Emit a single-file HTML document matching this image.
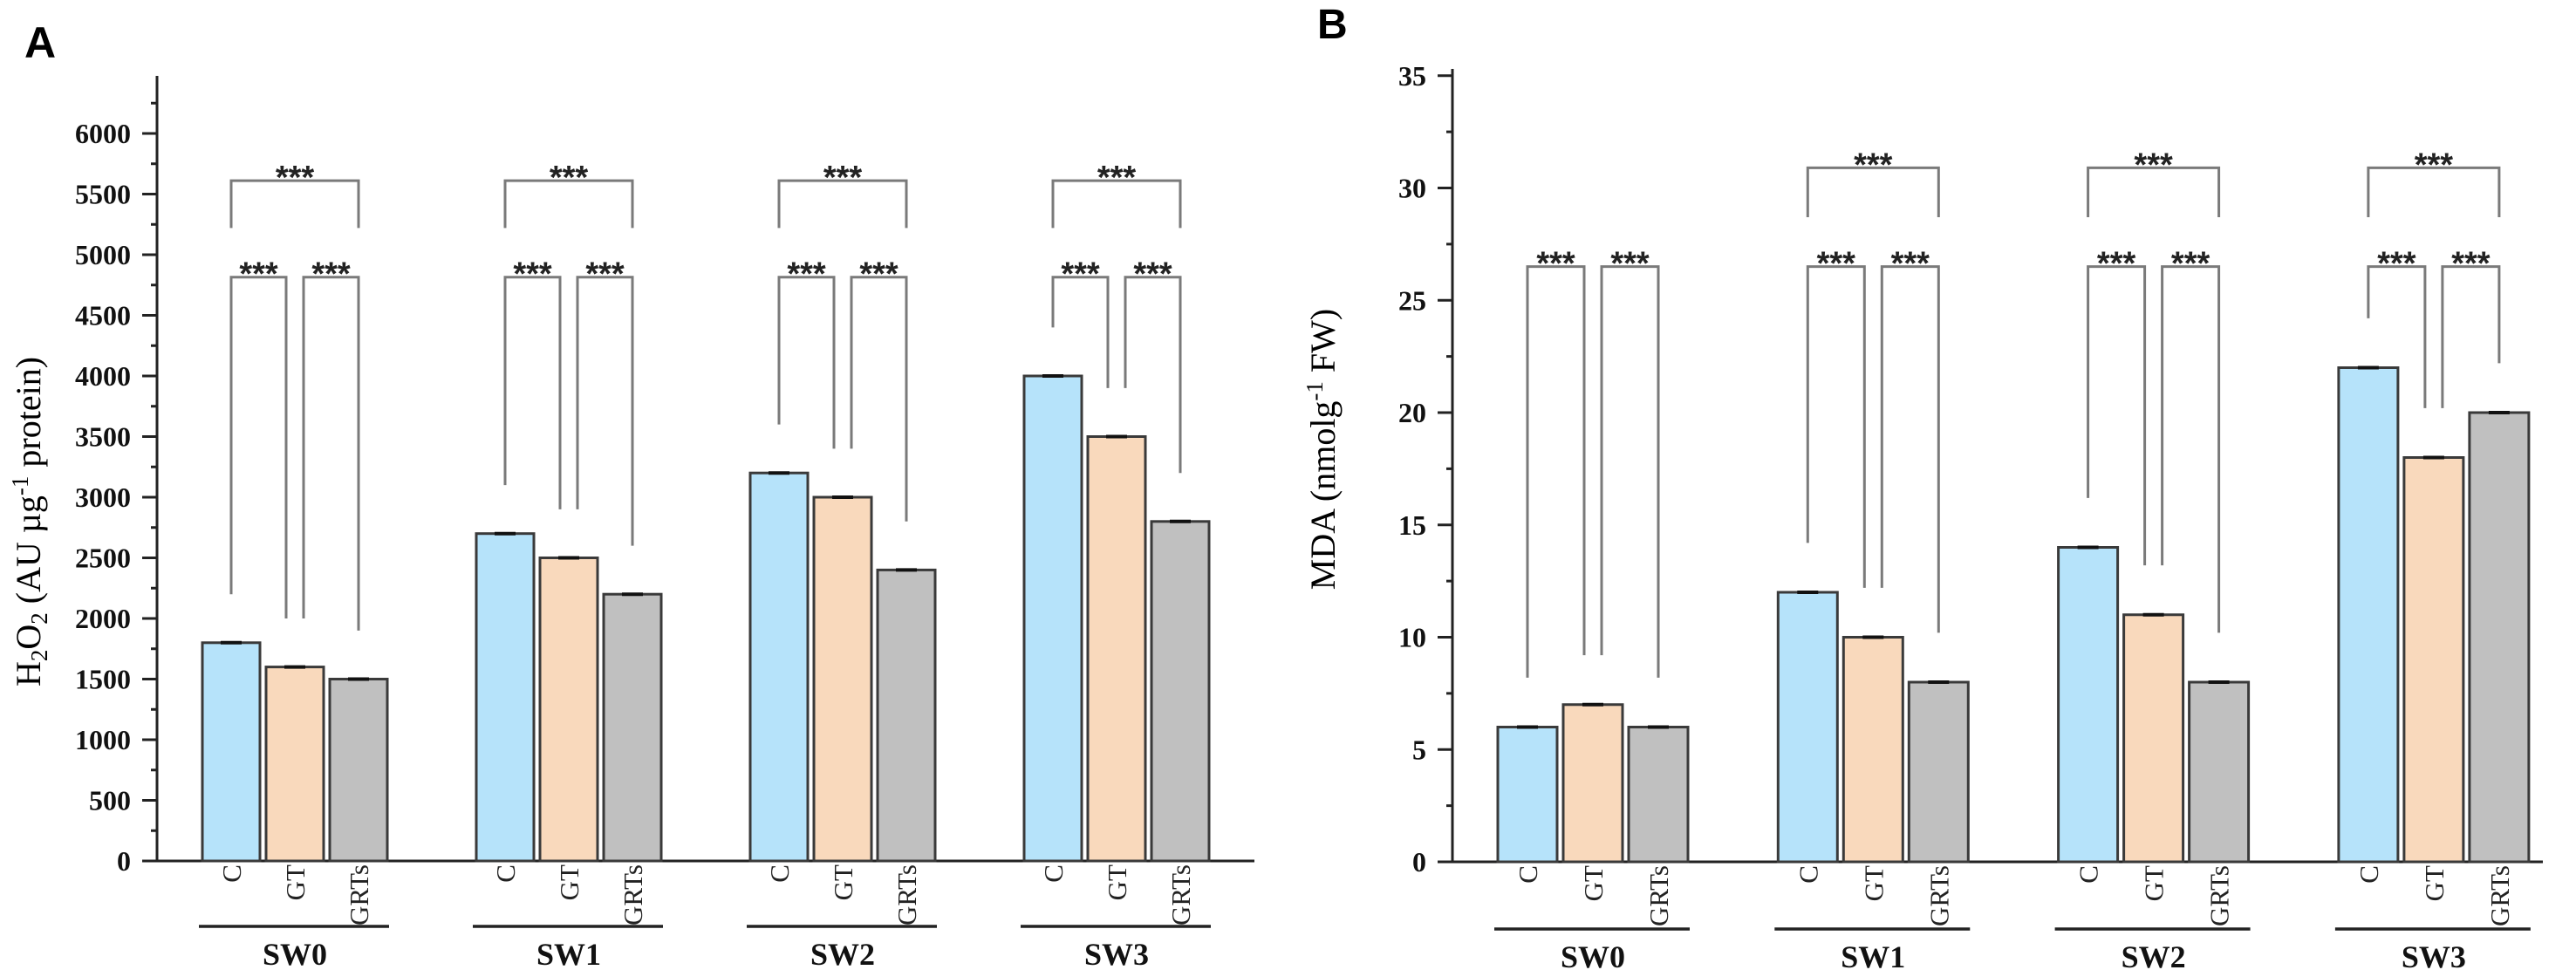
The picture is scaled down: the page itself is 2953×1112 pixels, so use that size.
<!DOCTYPE html>
<html><head><meta charset="utf-8"><style>
html,body{margin:0;padding:0;background:#fff;}
svg{display:block;}
</style></head><body>
<svg id="chart" width="2953" height="1112" viewBox="0 0 2953 1112" xmlns="http://www.w3.org/2000/svg">
<text x="28" y="66" font-family="Liberation Sans, sans-serif" font-weight="bold" font-size="50">A</text>
<text x="1510" y="44" font-family="Liberation Sans, sans-serif" font-weight="bold" font-size="48">B</text>
<text transform="translate(46,598) rotate(-90)" text-anchor="middle" font-family="Liberation Serif, serif" font-size="40">H<tspan font-size="27" dy="8">2</tspan><tspan dy="-8">O</tspan><tspan font-size="27" dy="8">2</tspan><tspan dy="-8"> (AU µg</tspan><tspan font-size="27" dy="-14">-1</tspan><tspan dy="14"> protein)</tspan></text>
<text transform="translate(1530,515) rotate(-90)" text-anchor="middle" font-family="Liberation Serif, serif" font-size="40">MDA (nmolg<tspan font-size="27" dy="-14">-1</tspan><tspan dy="14"> FW)</tspan></text>
<g id="pa"></g>
<g id="pb"></g>
</svg>
<script>
const groups = ["SW0","SW1","SW2","SW3"];
const treatments = ["C","GT","GRTs"];
const colors = ["#b6e3fa","#f9d9bc","#c0c0c0"];
// Panel A: H2O2
const aC = [1800, 2700, 3200, 4000];
const aGT = [1600, 2500, 3000, 3500];
const aGRT = [1500, 2200, 2400, 2800];
const aTicks = [0,500,1000,1500,2000,2500,3000,3500,4000,4500,5000,5500,6000];
const aTopBracket = [5611, 5611, 5611, 5611];
const aLowBracket = [4815, 4815, 4815, 4815];
const aLegGap = 400;
const aTopLeg = 5220;
// Panel B: MDA
const bC = [6, 12, 14, 22];
const bGT = [7, 10, 11, 18];
const bGRT = [6, 8, 8, 20];
const bTicks = [0,5,10,15,20,25,30,35];
const bTopBracket = [null, 30.9, 30.9, 30.9];
const bLowBracket = [26.5, 26.5, 26.5, 26.5];
const bLegGap = 2.2;
const bTopLeg = 28.7;

const NS = "http://www.w3.org/2000/svg";
function mk(parent, tag, attrs, text){
  const e = document.createElementNS(NS, tag);
  for (const k in attrs) e.setAttribute(k, attrs[k]);
  if (text !== undefined) e.textContent = text;
  parent.appendChild(e);
  return e;
}

function panel(g, cfg){
  const y = v => cfg.y0 - (v - 0) * cfg.ppu;
  const series = cfg.series;
  const ax = mk(g, "line", {x1:cfg.ax, y1:cfg.axTop, x2:cfg.ax, y2:cfg.y0+1.5, stroke:"#222", "stroke-width":3});
  
  
  cfg.ticks.forEach((t, i) => {
    const tk = mk(g, "line", {x1:cfg.ax-17, y1:y(t), x2:cfg.ax, y2:y(t), stroke:"#222", "stroke-width":3});
    
    
    const lb = mk(g, "text", {x:cfg.ax-30, y:y(t)+11, "text-anchor":"end", "font-family":"Liberation Serif, serif", "font-weight":"bold", "font-size":32, fill:"#111"}, String(t));
    
    
    if (i < cfg.ticks.length - 1) {
      const mv = (t + cfg.ticks[i+1]) / 2;
      const mt = mk(g, "line", {x1:cfg.ax-7, y1:y(mv), x2:cfg.ax, y2:y(mv), stroke:"#222", "stroke-width":3});
      
      
    }
  });
  const lastMinor = cfg.ticks[cfg.ticks.length-1] + (cfg.ticks[1]-cfg.ticks[0])/2;
  if (y(lastMinor) > cfg.axTop) {
    const mt = mk(g, "line", {x1:cfg.ax-7, y1:y(lastMinor), x2:cfg.ax, y2:y(lastMinor), stroke:"#222", "stroke-width":3});
    
    
  }
  const xa = mk(g, "line", {x1:cfg.ax-17, y1:cfg.y0, x2:cfg.axEnd, y2:cfg.y0, stroke:"#222", "stroke-width":3});
  
  

  groups.forEach((gn, gi) => {
    const gx = cfg.g0 + gi * cfg.gStep;
    const centers = [];
    series.forEach((s, si) => {
      const x = gx + si * cfg.stride;
      const v = s[gi];
      centers.push(x + cfg.bw/2);
      const r = mk(g, "rect", {x:x, y:y(v), width:cfg.bw, height:cfg.y0 - y(v), fill:colors[si], stroke:"#3a3a3a", "stroke-width":3});
      
      
      const eb = mk(g, "line", {x1:x+cfg.bw/2-12, y1:y(v), x2:x+cfg.bw/2+12, y2:y(v), stroke:"#111", "stroke-width":4});
      
      
      const tl = mk(g, "text", {transform:"translate(" + (x+cfg.bw/2+11) + "," + (cfg.y0+4) + ") rotate(-90)", "text-anchor":"end", "font-family":"Liberation Serif, serif", "font-size":31, fill:"#222"}, treatments[si]);
      
      
    });
    const gl = mk(g, "line", {x1:gx-4, y1:cfg.lineY, x2:gx + 2*cfg.stride + cfg.bw + 2, y2:cfg.lineY, stroke:"#222", "stroke-width":3.5});
    
    
    const gt = mk(g, "text", {x:gx + cfg.stride + cfg.bw/2, y:cfg.lineY+44, "text-anchor":"middle", "font-family":"Liberation Serif, serif", "font-weight":"bold", "font-size":36, fill:"#111"}, gn);
    
    

    const st = {stroke:"#7a7a7a", "stroke-width":3, fill:"none"};
    function bracket(x1, x2, by, l1, l2){
      const p = mk(g, "path", Object.assign({d:"M"+x1+" "+y(l1)+" L"+x1+" "+y(by)+" L"+x2+" "+y(by)+" L"+x2+" "+y(l2)}, st));
      
      
      const s = mk(g, "text", {x:(x1+x2)/2, y:y(by)+9, "text-anchor":"middle", "font-family":"Liberation Sans, sans-serif", "font-weight":"bold", "font-size":38, fill:"#222"}, "***");
      
      
    }
    const lb = cfg.low[gi];
    bracket(centers[0], centers[1]-10, lb, series[0][gi]+cfg.gap, series[1][gi]+cfg.gap);
    bracket(centers[1]+10, centers[2], lb, series[1][gi]+cfg.gap, series[2][gi]+cfg.gap);
    if (cfg.top[gi] !== null) bracket(centers[0], centers[2], cfg.top[gi], cfg.topLeg, cfg.topLeg);
  });
}

panel(document.getElementById("pa"), {
  series:[aC, aGT, aGRT], ticks:aTicks, top:aTopBracket, low:aLowBracket, gap:aLegGap, topLeg:aTopLeg,
  ax:180, axTop:87, axEnd:1438, y0:987, ppu:0.139, g0:232, gStep:314, bw:66, stride:73, lineY:1062
});
panel(document.getElementById("pb"), {
  series:[bC, bGT, bGRT], ticks:bTicks, top:bTopBracket, low:bLowBracket, gap:bLegGap, topLeg:bTopLeg,
  ax:1665, axTop:79, axEnd:2915, y0:988, ppu:25.75, g0:1717, gStep:321.3, bw:68, stride:75, lineY:1065
});
</script>
</body></html>
